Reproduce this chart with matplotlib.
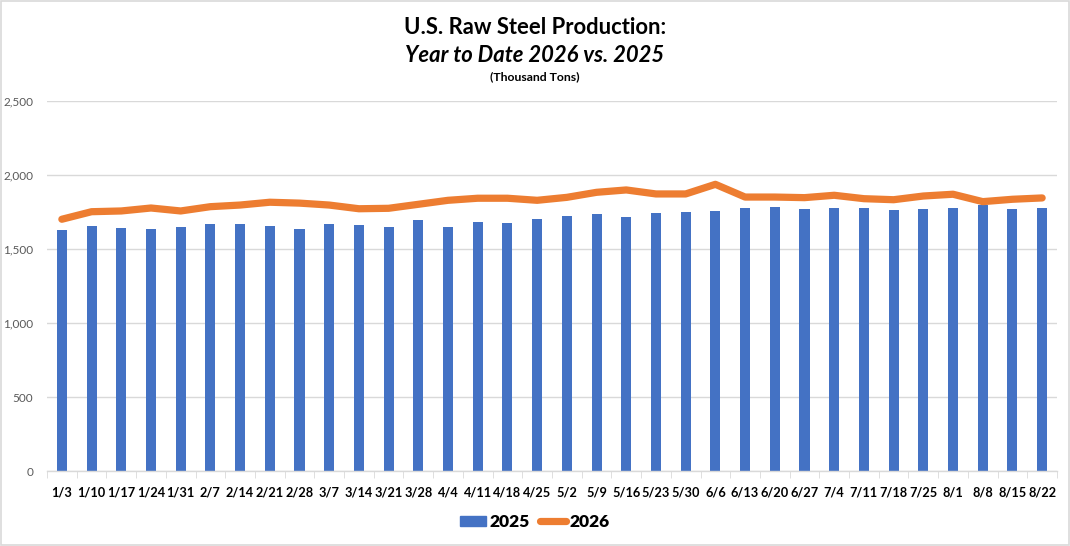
import matplotlib.pyplot as plt
from matplotlib.patches import Patch, Rectangle
from matplotlib.lines import Line2D
from matplotlib.ticker import FuncFormatter, MultipleLocator
import numpy as np

plt.rcParams['font.family'] = ['Lato', 'DejaVu Sans']

weeks = ['1/3', '1/10', '1/17', '1/24', '1/31', '2/7', '2/14', '2/21', '2/28',
         '3/7', '3/14', '3/21', '3/28', '4/4', '4/11', '4/18', '4/25', '5/2',
         '5/9', '5/16', '5/23', '5/30', '6/6', '6/13', '6/20', '6/27', '7/4',
         '7/11', '7/18', '7/25', '8/1', '8/8', '8/15', '8/22']

prod_2025 = [1628, 1655, 1642, 1635, 1649, 1669, 1669, 1655, 1635,
             1669, 1662, 1649, 1696, 1649, 1682, 1676, 1703, 1723,
             1737, 1716, 1743, 1750, 1757, 1777, 1784, 1770, 1777,
             1777, 1764, 1770, 1777, 1797, 1770, 1777]

prod_2026 = [1701, 1752, 1757, 1777, 1757, 1786, 1797, 1816, 1810,
             1797, 1772, 1775, 1802, 1829, 1843, 1843, 1829, 1849,
             1883, 1899, 1872, 1872, 1937, 1851, 1851, 1847, 1863,
             1840, 1833, 1858, 1870, 1820, 1836, 1845]

blue = '#4472C4'
orange = '#ED7D31'
grid_col = '#D9D9D9'

fig = plt.figure(figsize=(10.70, 5.46), dpi=100)
ax = fig.add_axes([47 / 1070, 75 / 546, 1010 / 1070, 370 / 546])

x = np.arange(len(weeks))
ax.bar(x, prod_2025, width=0.34, color=blue, zorder=2)
ax.plot(x, prod_2026, color=orange, linewidth=5.2, solid_joinstyle='round',
        solid_capstyle='round', zorder=3)

ax.set_xlim(-0.5, len(weeks) - 0.5)
ax.set_ylim(0, 2500)
ax.yaxis.set_major_locator(MultipleLocator(500))
ax.yaxis.set_major_formatter(FuncFormatter(lambda v, p: f'{int(v):,}'))
ax.grid(axis='y', color=grid_col, linewidth=1, zorder=0)

for s in ['top', 'right', 'left']:
    ax.spines[s].set_visible(False)
ax.spines['bottom'].set_color(grid_col)
ax.spines['bottom'].set_linewidth(1)

ax.set_xticks(x)
ax.set_xticklabels(weeks, fontsize=9.2, fontweight='bold', color='black')
ax.set_xticks(np.arange(-0.5, len(weeks), 1), minor=True)
ax.tick_params(axis='x', which='major', length=0, pad=11)
ax.tick_params(axis='x', which='minor', length=5, color=grid_col)
ax.tick_params(axis='y', length=0, labelsize=8.5, labelcolor='#595959', pad=10)

fig.text(0.5, 1 - 28 / 546, 'U.S. Raw Steel Production:', ha='center', va='center',
         fontsize=15.8, fontweight='bold')
fig.text(0.5, 1 - 56 / 546, 'Year to Date 2026 vs. 2025', ha='center', va='center',
         fontsize=15.8, fontweight='bold', fontstyle='italic')
fig.text(0.5, 1 - 77 / 546, '(Thousand Tons)', ha='center', va='center',
         fontsize=8.8, fontweight='bold')

handles = [Patch(facecolor=blue, edgecolor=blue),
           Line2D([0], [0], color=orange, linewidth=5.2, solid_capstyle='round')]
fig.legend(handles, ['2025', '2026'], loc='center', bbox_to_anchor=(0.5, 24 / 546),
           ncol=2, frameon=False, prop={'weight': 'heavy', 'size': 12.5},
           handlelength=1.5, handleheight=0.55, handletextpad=0.2,
           columnspacing=0.6)

fig.patches.append(Rectangle((0.0005, 0.001), 0.999, 0.998, transform=fig.transFigure,
                             fill=False, edgecolor=grid_col, linewidth=1.2))

fig.savefig('out.png', dpi=100, facecolor='white')
